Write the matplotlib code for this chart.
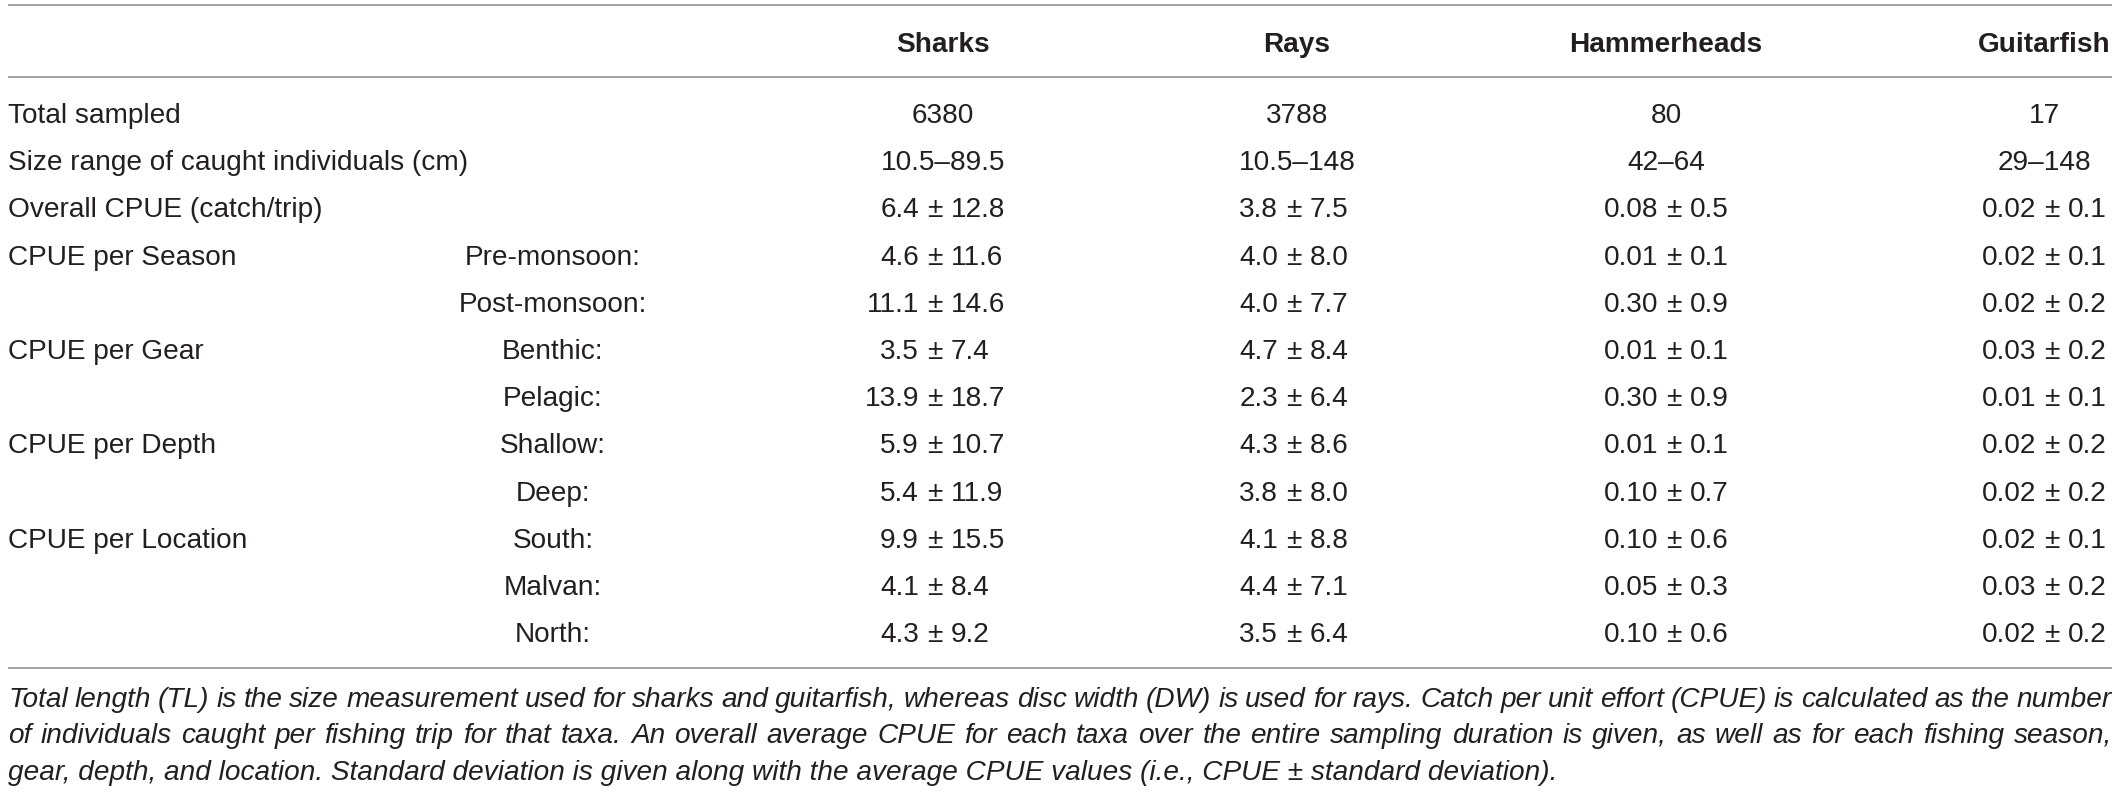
import matplotlib.pyplot as plt

plt.rcParams['font.family'] = ['Liberation Sans', 'DejaVu Sans']

# table contents
species = ['Sharks', 'Rays', 'Hammerheads', 'Guitarfish']
row_labels = ['Total sampled', 'Size range of caught individuals (cm)', 'Overall CPUE (catch/trip)',
              'CPUE per Season', '', 'CPUE per Gear', '', 'CPUE per Depth', '', 'CPUE per Location', '', '']
sub_labels = ['', '', '', 'Pre-monsoon:', 'Post-monsoon:', 'Benthic:', 'Pelagic:',
              'Shallow:', 'Deep:', 'South:', 'Malvan:', 'North:']
total_sampled = ['6380', '3788', '80', '17']
size_range = ['10.5–89.5', '10.5–148', '42–64', '29–148']

# CPUE rows: overall, pre, post, benthic, pelagic, shallow, deep, south, malvan, north
sharks_mean = ['6.4', '4.6', '11.1', '3.5', '13.9', '5.9', '5.4', '9.9', '4.1', '4.3']
sharks_sd = ['12.8', '11.6', '14.6', '7.4', '18.7', '10.7', '11.9', '15.5', '8.4', '9.2']
rays_mean = ['3.8', '4.0', '4.0', '4.7', '2.3', '4.3', '3.8', '4.1', '4.4', '3.5']
rays_sd = ['7.5', '8.0', '7.7', '8.4', '6.4', '8.6', '8.0', '8.8', '7.1', '6.4']
hammer_mean = ['0.08', '0.01', '0.30', '0.01', '0.30', '0.01', '0.10', '0.10', '0.05', '0.10']
hammer_sd = ['0.5', '0.1', '0.9', '0.1', '0.9', '0.1', '0.7', '0.6', '0.3', '0.6']
guitar_mean = ['0.02', '0.02', '0.02', '0.03', '0.01', '0.02', '0.02', '0.02', '0.03', '0.02']
guitar_sd = ['0.1', '0.1', '0.2', '0.2', '0.1', '0.2', '0.2', '0.1', '0.2', '0.2']

caption = ("Total length (TL) is the size measurement used for sharks and guitarfish, whereas disc width (DW) "
           "is used for rays. Catch per unit effort (CPUE) is calculated as the number|of individuals caught "
           "per fishing trip for that taxa. An overall average CPUE for each taxa over the entire sampling "
           "duration is given, as well as for each fishing season,|gear, depth, and location. Standard deviation "
           "is given along with the average CPUE values (i.e., CPUE ± standard deviation).")

W, H = 2119, 792
fig = plt.figure(figsize=(W / 100, H / 100), dpi=100)
ax = fig.add_axes([0, 0, 1, 1])
ax.set_xlim(0, W)
ax.set_ylim(H, 0)
ax.axis('off')

fs = 20.2
ink = '#231f20'
rule = '#9c9c9c'
x_left, x_right = 8, 2112
col_x = [943, 1297, 1666, 2044]
pm_x = [935, 1294, 1674, 2052]
sub_x = 553
row_y0, row_dy = 113, 47.2
half_cap = 10

for yy in [5, 77, 668]:
    ax.plot([x_left, x_right], [yy, yy], color=rule, lw=1.3, solid_capstyle='butt')

for name, cx in zip(species, col_x):
    ax.text(cx, 42 + half_cap, name, ha='center', va='baseline', fontsize=fs,
            fontweight='bold', color=ink)

for i in range(12):
    y = row_y0 + i * row_dy + half_cap
    if row_labels[i]:
        ax.text(x_left, y, row_labels[i], ha='left', va='baseline', fontsize=fs, color=ink)
    if sub_labels[i]:
        ax.text(sub_x, y, sub_labels[i], ha='center', va='baseline', fontsize=fs, color=ink)

for j in range(4):
    y = row_y0 + half_cap
    ax.text(col_x[j], y, total_sampled[j], ha='center', va='baseline', fontsize=fs, color=ink)
    ax.text(col_x[j], y + row_dy, size_range[j], ha='center', va='baseline', fontsize=fs, color=ink)

means = [sharks_mean, rays_mean, hammer_mean, guitar_mean]
sds = [sharks_sd, rays_sd, hammer_sd, guitar_sd]
gap = 16
for j in range(4):
    for k in range(10):
        y = row_y0 + (k + 2) * row_dy + half_cap
        ax.text(pm_x[j] - gap, y, means[j][k], ha='right', va='baseline', fontsize=fs, color=ink)
        ax.text(pm_x[j], y, '±', ha='center', va='baseline', fontsize=fs, color=ink)
        ax.text(pm_x[j] + gap, y, sds[j][k], ha='left', va='baseline', fontsize=fs, color=ink)

# caption: first two lines justified, last line left aligned
renderer = fig.canvas.get_renderer()
cap_lines = caption.split('|')
cap_y = [697, 733, 770]
for n, line in enumerate(cap_lines):
    y = cap_y[n] + half_cap
    if n == len(cap_lines) - 1:
        ax.text(x_left, y, line, ha='left', va='baseline', fontsize=fs, style='italic', color=ink)
        continue
    words = line.split(' ')
    texts = [ax.text(0, y, w, ha='left', va='baseline', fontsize=fs, style='italic', color=ink)
             for w in words]
    widths = [t.get_window_extent(renderer).width for t in texts]
    space = (x_right - x_left - sum(widths)) / (len(words) - 1)
    x = x_left
    for t, w in zip(texts, widths):
        t.set_x(x)
        x += w + space

fig.savefig('out.png', dpi=100)
